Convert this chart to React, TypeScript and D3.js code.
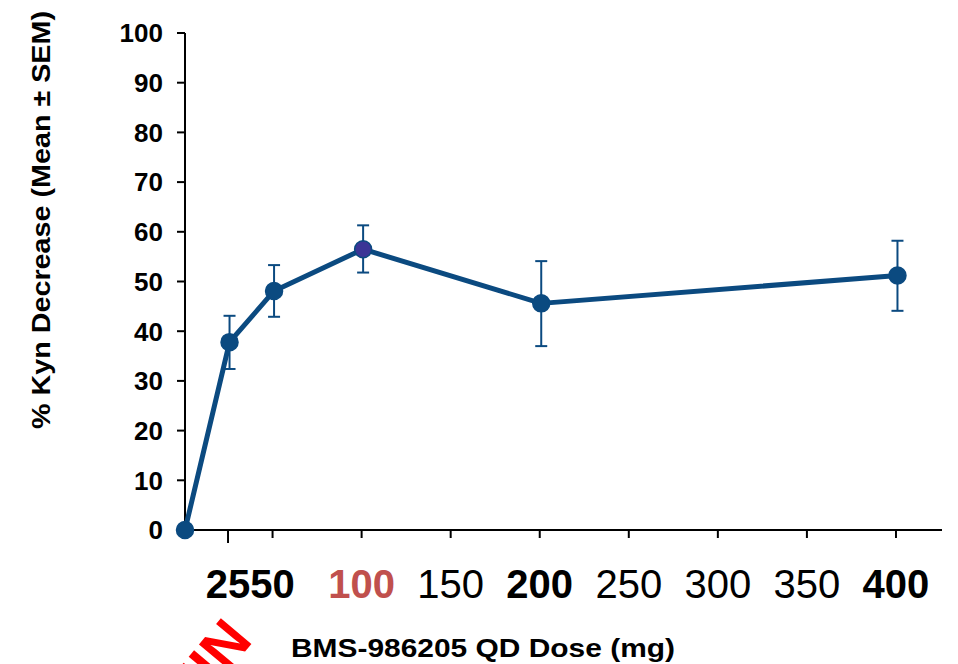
import React from 'react';
import * as d3 from 'd3';

const doses = [0, 25, 50, 100, 200, 400];
const meanDecrease = [0, 37.8, 48.1, 56.5, 45.6, 51.2];
const semLow = [0, 32.4, 42.9, 51.8, 37.0, 44.1];
const semHigh = [0, 43.1, 53.3, 61.3, 54.1, 58.2];

const yTicks = [0, 10, 20, 30, 40, 50, 60, 70, 80, 90, 100];
const xTicks = [25, 50, 100, 150, 200, 250, 300, 350, 400];
const xTickBold = [true, true, true, false, true, false, false, false, true];

const W = 958;
const H = 664;
const margin = { top: 33, right: 16, bottom: 134, left: 185 };
const blue = '#0b4a80';

export default function App() {
  const x = d3.scaleLinear().domain([0, 425]).range([margin.left, W - margin.right]);
  const y = d3.scaleLinear().domain([0, 100]).range([H - margin.bottom, margin.top]);

  const pts = doses.map((d, i) => ({ dose: d, v: meanDecrease[i], lo: semLow[i], hi: semHigh[i] }));
  const line = d3.line<typeof pts[0]>().x(d => x(d.dose)).y(d => y(d.v));
  const font = '"Liberation Sans", Arial, sans-serif';
  const y0 = y(0);

  return (
    <svg width={W} height={H} style={{ position: 'absolute', left: 0, top: 0, background: '#fff' }} fontFamily={font}>
      {/* axes */}
      <line x1={x(0)} x2={x(0)} y1={y(100)} y2={y0} stroke="#000" strokeWidth={2} />
      <line x1={x(0)} x2={x(425)} y1={y0} y2={y0} stroke="#000" strokeWidth={2} />
      {yTicks.map(t => (
        <g key={t}>
          <line x1={x(0) - 8} x2={x(0)} y1={y(t)} y2={y(t)} stroke="#000" strokeWidth={2} />
          <text x={163} y={y(t)} dy="0.36em" textAnchor="end" fontSize={26} fontWeight="bold">{t}</text>
        </g>
      ))}
      {xTicks.map((t, i) => (
        <g key={t}>
          <line x1={x(t) - 1.5} x2={x(t) - 1.5} y1={y0} y2={y0 + (t === 25 ? 13 : 8)} stroke="#000" strokeWidth={2} />
          <text x={x(t) - 1.5} y={598} textAnchor="middle" fontSize={40}
            fontWeight={xTickBold[i] ? 'bold' : 'normal'}
            fill={t === 100 ? '#c0504d' : '#000'}>{t}</text>
        </g>
      ))}
      {/* axis titles */}
      <text transform={`translate(50,220) rotate(-90)`} textAnchor="middle" fontSize={25} fontWeight="bold"
        textLength={418} lengthAdjust="spacingAndGlyphs">% Kyn Decrease (Mean ± SEM)</text>
      <text x={483} y={657} textAnchor="middle" fontSize={26} fontWeight="bold"
        textLength={384} lengthAdjust="spacingAndGlyphs">BMS-986205 QD Dose (mg)</text>

      {/* error bars */}
      {pts.filter(p => p.dose > 0).map(p => (
        <g key={'e' + p.dose} stroke={blue} strokeWidth={2}>
          <line x1={x(p.dose)} x2={x(p.dose)} y1={y(p.lo)} y2={y(p.hi)} />
          <line x1={x(p.dose) - 6} x2={x(p.dose) + 6} y1={y(p.lo)} y2={y(p.lo)} />
          <line x1={x(p.dose) - 6} x2={x(p.dose) + 6} y1={y(p.hi)} y2={y(p.hi)} />
        </g>
      ))}
      <path d={line(pts) || ''} fill="none" stroke={blue} strokeWidth={5} strokeLinejoin="round" />
      {pts.map(p => (
        <circle key={'c' + p.dose} cx={x(p.dose)} cy={y(p.v)} r={8.5}
          fill={p.dose === 100 ? '#3b3596' : blue} stroke={blue} strokeWidth={1.5} />
      ))}

      {/* partial red stamp, cut by the lower edge */}
      <text transform="translate(196,710) rotate(-50)" fontSize={58} fontWeight="bold" fill="#ff0000"
        stroke="#fff" strokeWidth={3} paintOrder="stroke">JIN</text>
    </svg>
  );
}
